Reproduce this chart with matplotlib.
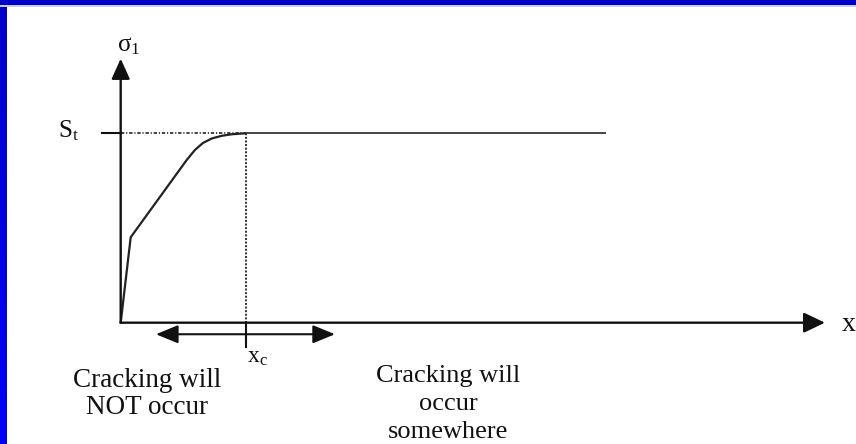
import numpy as np
import matplotlib
matplotlib.use('Agg')
import matplotlib.pyplot as plt
from matplotlib.patches import Rectangle

plt.rcParams['font.family'] = ['Liberation Serif', 'DejaVu Serif']
plt.rcParams['mathtext.fontset'] = 'custom'
plt.rcParams['mathtext.rm'] = 'Liberation Serif'
plt.rcParams['mathtext.it'] = 'Liberation Serif'

# stress curve sigma_1 / S_t against distance x / x_c
curve_x = [0.0, 0.080, 0.528, 0.594, 0.658, 0.730, 0.810, 0.890, 1.0]
curve_y = [0.0, 0.451, 0.859, 0.912, 0.949, 0.973, 0.987, 0.995, 1.0]
plateau_x = [1.0, 3.874]
S_t = 1.0
x_c = 1.0

label_left = 'Cracking will\nNOT occur'
label_right = 'Cracking will\noccur\nsomewhere'

# setting up figure
fig = plt.figure(figsize=(8.56, 4.44), dpi=100)
fig.patch.set_facecolor('white')
ax = fig.add_axes([0, 0, 1, 1])
ax.set_xlim(-0.9656, 5.8824)
ax.set_ylim(-0.6405, 1.7038)
ax.axis('off')

ink = '#111111'

# axes with arrow heads
ax.annotate('', xy=(5.634, 0), xytext=(0, 0),
            arrowprops=dict(arrowstyle='-|>,head_length=0.65,head_width=0.31',
                            mutation_scale=20, lw=1.7, color=ink,
                            shrinkA=0, shrinkB=0))
ax.annotate('', xy=(0, 1.394), xytext=(0, 0),
            arrowprops=dict(arrowstyle='-|>,head_length=0.62,head_width=0.28',
                            mutation_scale=20, lw=1.7, color=ink,
                            shrinkA=0, shrinkB=0))

# stress curve and plateau at S_t
ax.plot(curve_x, curve_y, color='#222222', lw=1.6, solid_joinstyle='round')
ax.plot(plateau_x, [S_t, S_t], color='#444444', lw=1.4)

# S_t tick and dotted guide lines
ax.plot([-0.152, 0], [S_t, S_t], color=ink, lw=1.5)
ax.plot([0, x_c], [S_t, S_t], color='#222222', lw=1.2,
        linestyle=(0, (2.0, 1.1, 0.7, 1.1)))
ax.plot([x_c, x_c], [0, S_t], color='#222222', lw=1.3,
        linestyle=(0, (1.1, 0.9)))
ax.plot([x_c, x_c], [0, -0.128], color=ink, lw=1.5)

# double arrow across x_c
ax.annotate('', xy=(0.282, -0.061), xytext=(1.714, -0.061),
            arrowprops=dict(arrowstyle='<|-|>,head_length=0.68,head_width=0.28',
                            mutation_scale=20, lw=1.5, color=ink,
                            shrinkA=0, shrinkB=0))

# labels
ax.text(-0.03, 1.461, r'$\mathrm{\sigma}_\mathrm{1}$', fontsize=18,
        ha='left', va='center', color=ink)
ax.text(-0.502, 1.012, r'$\mathrm{S}_\mathrm{t}$', fontsize=18,
        ha='left', va='center', color=ink)
ax.text(5.822, -0.012, 'x', fontsize=20, ha='center', va='center',
        color=ink)
ax.text(1.01, -0.186, r'$\mathrm{x}_\mathrm{c}$', fontsize=17,
        ha='left', va='center', color=ink)
ax.text(0.21, -0.24, label_left, fontsize=19.5, ha='center', va='top',
        linespacing=1.08, color=ink)
ax.text(2.622, -0.225, label_right, fontsize=19, ha='center', va='top',
        linespacing=1.35, color=ink)

# blue frame along the top and left edges
W, H = 856, 444
fig.patches.append(Rectangle((0, 1 - 5 / H), 1, 5 / H, transform=fig.transFigure,
                             facecolor='#0000c8', edgecolor='none', zorder=5))
fig.patches.append(Rectangle((0, 1 - 7 / H), 1, 2 / H, transform=fig.transFigure,
                             facecolor='#c8c8f0', edgecolor='none', zorder=4))
band = fig.add_axes([0, 0, 7 / W, 1])
grad = np.linspace(0, 1, 256).reshape(-1, 1)
band.imshow(grad, aspect='auto', origin='lower', extent=(0, 1, 0, 1),
            cmap=matplotlib.colors.LinearSegmentedColormap.from_list(
                'edge', ['#0000f8', '#0000c8']))
band.axis('off')

fig.savefig('out.png', dpi=100)
